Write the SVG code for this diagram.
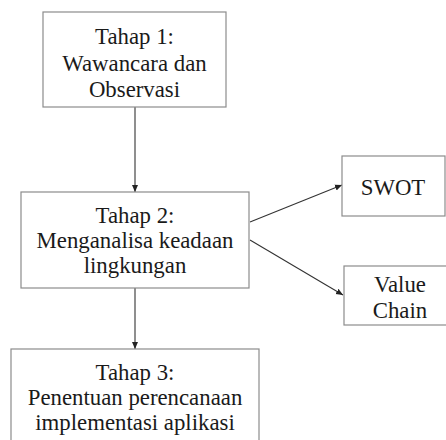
<svg xmlns="http://www.w3.org/2000/svg" width="446" height="440" viewBox="0 0 446 440">
<defs>
<style>
.box{fill:#fff;stroke:#8c8c8c;stroke-width:1.2}
.t{font-family:"Liberation Serif","Times New Roman",serif;font-size:22.8px;fill:#1a1a1a;text-anchor:middle}
.c{stroke:#333;stroke-width:1.1;fill:none;marker-end:url(#ah)}
</style>
<marker id="ah" markerWidth="8" markerHeight="8" refX="7" refY="4" orient="auto" markerUnits="userSpaceOnUse">
<path d="M0,1 L7,4 L0,7 z" fill="#222"/>
</marker>
</defs>
<rect width="446" height="440" fill="#fff"/>
<g id="connectors">
<line class="c" x1="135" y1="107" x2="135" y2="192"/>
<line class="c" x1="135" y1="288" x2="135" y2="349"/>
<line class="c" x1="250" y1="222" x2="342" y2="185"/>
<line class="c" x1="250" y1="240" x2="343" y2="295"/>
</g>
<g id="tahap1">
<rect class="box" x="43" y="12" width="183" height="95"/>
<text class="t" x="134.5" y="44">Tahap 1:</text>
<text class="t" x="134.5" y="71">Wawancara dan</text>
<text class="t" x="134.5" y="97">Observasi</text>
</g>
<g id="tahap2">
<rect class="box" x="21" y="192" width="228" height="96"/>
<text class="t" x="135" y="223">Tahap 2:</text>
<text class="t" x="135" y="248">Menganalisa keadaan</text>
<text class="t" x="135" y="273">lingkungan</text>
</g>
<g id="swot">
<rect class="box" x="342" y="156" width="103" height="60"/>
<text class="t" x="393" y="195">SWOT</text>
</g>
<g id="valuechain">
<rect class="box" x="344" y="266" width="112" height="59"/>
<text class="t" x="400" y="292">Value</text>
<text class="t" x="400" y="318">Chain</text>
</g>
<g id="tahap3">
<rect class="box" x="11" y="349" width="248" height="100"/>
<text class="t" x="135" y="380">Tahap 3:</text>
<text class="t" x="135" y="405">Penentuan perencanaan</text>
<text class="t" x="135" y="430">implementasi aplikasi</text>
</g>
</svg>
